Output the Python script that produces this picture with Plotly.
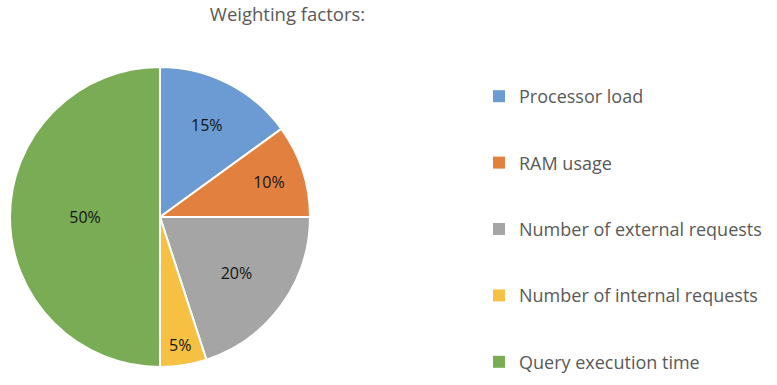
import plotly.graph_objects as go

categories = ["Processor load", "RAM usage", "Number of external requests",
              "Number of internal requests", "Query execution time"]
values = [15, 10, 20, 5, 50]
colors = ["#6b9bd2", "#e2813f", "#a5a5a5", "#f6c142", "#7aab55"]
title_text = "Weighting factors:"

W, H = 777, 385
fig = go.Figure()
fig.add_trace(go.Pie(
    labels=categories, values=values, sort=False, direction="clockwise", rotation=0,
    marker=dict(colors=colors, line=dict(color="white", width=2)),
    textinfo="percent", textposition="inside", insidetextorientation="horizontal",
    texttemplate="%{percent:.0%}",
    textfont=dict(family="Open Sans", size=16, color="#141414"),
    domain=dict(x=[9 / W, 311 / W], y=[18 / H, 318 / H]),
    showlegend=False, hoverinfo="label+percent",
))
for i, (c, col) in enumerate(zip(categories, colors)):
    fig.add_trace(go.Scatter(
        x=[None], y=[None], mode="markers", name=c, legendgroup=f"g{i}",
        marker=dict(symbol="square", size=9, color=col), showlegend=True,
    ))

fig.update_layout(
    width=W, height=H, margin=dict(l=0, r=0, t=0, b=0),
    paper_bgcolor="white", plot_bgcolor="white",
    xaxis=dict(visible=False), yaxis=dict(visible=False),
    title=dict(text=title_text, x=287.5 / W, xanchor="center", y=1 - 15 / H, yanchor="middle",
               font=dict(family="Open Sans", size=18.5, color="#595959")),
    legend=dict(x=479 / W, xanchor="left", y=1 - 78 / H, yanchor="top",
                font=dict(family="Open Sans", size=18, color="#595959"),
                tracegroupgap=40, itemsizing="constant", bgcolor="rgba(0,0,0,0)"),
)
fig.write_html("out.html", config={"displayModeBar": False},
               post_script="document.body.style.margin='0';")
